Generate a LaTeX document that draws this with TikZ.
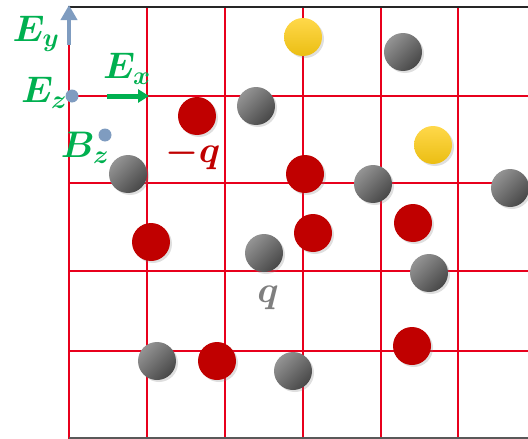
\RequirePackage{fix-cm}
\documentclass[tikz,border=0pt]{standalone}
\usepackage{bm}
\usetikzlibrary{shadows,arrows.meta}
\definecolor{gridred}{HTML}{E8001C}
\definecolor{chargered}{HTML}{C00000}
\definecolor{fieldgreen}{HTML}{00B050}
\definecolor{fieldblue}{HTML}{7F9CC0}
\definecolor{labelgray}{HTML}{7F7F7F}
\begin{document}
\begin{tikzpicture}[x=1pt,y=-1pt,
 ball/.style={circle,minimum size=38pt,inner sep=0pt,
  drop shadow={opacity=0.25,shadow xshift=2pt,shadow yshift=-2pt}},
 grayball/.style={ball,top color=black!42,bottom color=black!72,shading angle=45},
 redball/.style={ball,fill=chargered},
 yellowball/.style={ball,top color={rgb,255:red,255;green,216;blue,74},bottom color={rgb,255:red,235;green,190;blue,19}},
 bluedot/.style={circle,fill=fieldblue,minimum size=13pt,inner sep=0pt},
 lab/.style={inner sep=0pt,font=\fontsize{37}{42}\selectfont}
]
 \useasboundingbox (0,0) rectangle (528,439);
 \foreach \x in {147,225,303,381,458}
  \draw[gridred,line width=2.4pt] (\x,7) -- (\x,439);
 \draw[gridred,line width=2.4pt] (69,45) -- (69,439);
 \foreach \y in {96,183,271,351}
  \draw[gridred,line width=2.4pt] (69,\y) -- (528,\y);
 \draw[black!85,line width=2.2pt] (68,7) -- (528,7);
 \draw[black!65,line width=2.2pt] (69,438) -- (528,438);
 \coordinate (ey0) at (69,45);
 \coordinate (ey1) at (69,5);
 \coordinate (ex0) at (107,96);
 \coordinate (ex1) at (149,96);
 \draw[fieldblue,line width=4.5pt,-{Triangle[width=16pt,length=15pt]}] (ey0) -- (ey1);
 \draw[fieldgreen,line width=5pt,-{Triangle[width=13pt,length=11pt]}] (ex0) -- (ex1);
 \node[bluedot] (ez) at (72,96) {};
 \node[bluedot] (bz) at (105,135) {};
 \node[lab,text=fieldgreen] (eylab) at (36,34) {$\bm{E_y}$};
 \node[lab,text=fieldgreen] (exlab) at (127,69) {$\bm{E_x}$};
 \node[lab,text=fieldgreen] (ezlab) at (44,93) {$\bm{E_z}$};
 \node[lab,text=fieldgreen] (bzlab) at (85,148) {$\bm{B_z}$};
 \node[yellowball] (y1) at (303,37) {};
 \node[yellowball] (y2) at (433,145) {};
 \node[grayball] (g1) at (403,52) {};
 \node[grayball] (g2) at (256,106) {};
 \node[grayball] (g3) at (128,174) {};
 \node[grayball] (g4) at (373,184) {};
 \node[grayball] (g5) at (510,188) {};
 \node[grayball] (g6) at (264,253) {};
 \node[grayball] (g7) at (429,273) {};
 \node[grayball] (g8) at (157,361) {};
 \node[grayball] (g9) at (293,371) {};
 \node[redball] (r1) at (197,116) {};
 \node[redball] (r2) at (305,174) {};
 \node[redball] (r3) at (151,242) {};
 \node[redball] (r4) at (313,233) {};
 \node[redball] (r5) at (413,223) {};
 \node[redball] (r6) at (217,361) {};
 \node[redball] (r7) at (412,346) {};
 \node[lab,text=chargered] (mq) at (193,154) {$\bm{-q}$};
 \node[lab,text=labelgray] (q) at (268,298) {$\bm{q}$};
\end{tikzpicture}
\end{document}
